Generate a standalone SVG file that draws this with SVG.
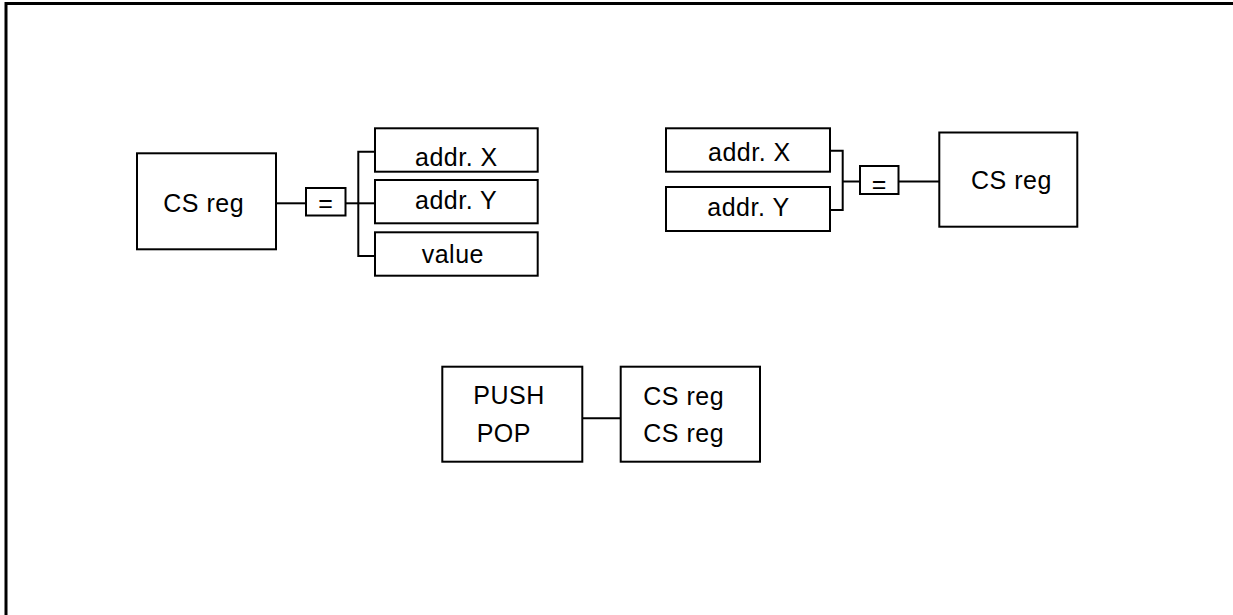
<svg xmlns="http://www.w3.org/2000/svg" width="1233" height="615" viewBox="0 0 1233 615">
<style>
.box{fill:#fff;stroke:#000;stroke-width:2}
.ln{fill:none;stroke:#000;stroke-width:2}
.t{font-family:"Liberation Sans",Arial,sans-serif;font-size:25px;letter-spacing:0.5px;fill:#000}
</style>
<rect x="0" y="0" width="1233" height="615" fill="#fff"/>
<path d="M6,615 V3.5 H1233" fill="none" stroke="#000" stroke-width="3"/>
<g id="connectors">
<path class="ln" d="M276,203.3 H306"/>
<path class="ln" d="M345,203.3 H375"/>
<path class="ln" d="M375,151.7 H358.3 V256 H375"/>
<path class="ln" d="M830,150.7 H842.7 V210 H830"/>
<path class="ln" d="M842.7,181.5 H860"/>
<path class="ln" d="M898.5,181.5 H939.3"/>
<path class="ln" d="M582.3,418.3 H620.7"/>
</g>
<g id="cs-left"><rect class="box" x="137" y="153.3" width="139" height="96"/><text class="t" x="163.3" y="212.3">CS reg</text></g>
<g id="eq-left"><rect class="box" x="306" y="188" width="39.5" height="27.5"/><text class="t" x="325.5" y="211.5" text-anchor="middle" style="letter-spacing:0">=</text></g>
<g id="addrx-left"><rect class="box" x="375" y="128.3" width="162.7" height="43.4"/><text class="t" x="415" y="166">addr. X</text></g>
<g id="addry-left"><rect class="box" x="375" y="180" width="162.7" height="43.3"/><text class="t" x="415" y="209">addr. Y</text></g>
<g id="value-left"><rect class="box" x="375" y="232.3" width="162.7" height="43.4"/><text class="t" x="421.7" y="263">value</text></g>
<g id="addrx-right"><rect class="box" x="666" y="128.3" width="164" height="43.4"/><text class="t" x="708" y="161">addr. X</text></g>
<g id="addry-right"><rect class="box" x="666" y="187" width="164" height="44"/><text class="t" x="707.3" y="216">addr. Y</text></g>
<g id="eq-right"><rect class="box" x="860" y="166" width="38.5" height="28"/><text class="t" x="879" y="192.5" text-anchor="middle" style="letter-spacing:0">=</text></g>
<g id="cs-right"><rect class="box" x="939.3" y="132.5" width="138" height="94.2"/><text class="t" x="971" y="189.3">CS reg</text></g>
<g id="pushpop"><rect class="box" x="442.3" y="366.7" width="140" height="95"/><text class="t" x="473.3" y="404">PUSH</text><text class="t" x="476.7" y="441.7">POP</text></g>
<g id="csregs"><rect class="box" x="620.7" y="366.7" width="139.3" height="95"/><text class="t" x="643.3" y="405">CS reg</text><text class="t" x="643.3" y="441.7">CS reg</text></g>
</svg>
